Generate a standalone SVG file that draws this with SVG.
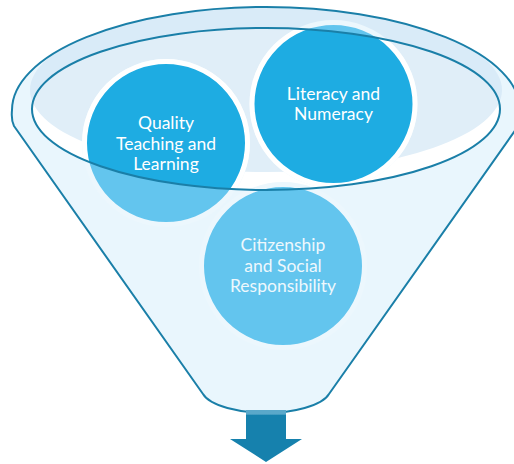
<svg xmlns="http://www.w3.org/2000/svg" width="514" height="464" viewBox="0 0 514 464">
  <style>
    .outline { fill: none; stroke: #1a7fa8; stroke-width: 2; stroke-linejoin: round; }
    .glass { fill: #63c5ee; stroke: #ecf7fd; stroke-width: 5; }
    .open { fill: #1eace2; stroke: #ffffff; stroke-width: 5; }
    .lbl { font-family: Lato, "Open Sans", sans-serif; font-size: 17.5px; fill: #ffffff; text-anchor: middle; }
    .lbl-glass { fill: #eef8fd; }
  </style>
  <defs>
    <!-- the open mouth of the funnel -->
    <clipPath id="mouth">
      <ellipse cx="266" cy="109" rx="234" ry="81"/>
    </clipPath>
    <linearGradient id="arrowShade" x1="0" y1="410" x2="0" y2="462" gradientUnits="userSpaceOnUse">
      <stop offset="0" stop-color="#5aa8ca"/>
      <stop offset="0.08" stop-color="#5aa8ca"/>
      <stop offset="0.1" stop-color="#1681ad"/>
      <stop offset="1" stop-color="#1681ad"/>
    </linearGradient>
  </defs>

  <!-- funnel glass -->
  <g id="funnel">
    <path d="M14,126 Q11,120 12,110 A254 103 0 0 1 520,110 L519,125 L329,394 C322,406 292,413 266,413 C240,413 210,406 203,394 Z" fill="#e9f6fd"/>
    <ellipse cx="266" cy="90" rx="236" ry="82" fill="#d9ebf8"/>
    <ellipse cx="266" cy="109" rx="234" ry="81" fill="#ffffff"/>
    <ellipse cx="266" cy="90" rx="236" ry="82" fill="#e0eef8" clip-path="url(#mouth)"/>
  </g>

  <!-- items in the funnel -->
  <g id="node-quality">
    <circle class="glass" cx="166" cy="143" r="81.5"/>
    <circle class="open" cx="166" cy="143" r="81.5" clip-path="url(#mouth)"/>
    <text class="lbl" x="166" y="129">Quality</text>
    <text class="lbl" x="166" y="149.5">Teaching and</text>
    <text class="lbl" x="166" y="170">Learning</text>
  </g>
  <g id="node-literacy">
    <circle class="glass" cx="333.5" cy="104" r="81.5"/>
    <circle class="open" cx="333.5" cy="104" r="81.5" clip-path="url(#mouth)"/>
    <text class="lbl" x="333.5" y="99.5">Literacy and</text>
    <text class="lbl" x="333.5" y="120">Numeracy</text>
  </g>
  <g id="node-citizenship">
    <circle class="glass" cx="283" cy="266" r="81.5"/>
    <text class="lbl lbl-glass" x="283" y="251">Citizenship</text>
    <text class="lbl lbl-glass" x="283" y="271.5">and Social</text>
    <text class="lbl lbl-glass" x="283" y="292">Responsibility</text>
  </g>

  <!-- funnel outlines over the contents -->
  <g id="funnel-edges">
    <ellipse class="outline" cx="266" cy="109" rx="234" ry="81"/>
    <path class="outline" d="M14,126 Q11,120 12,110 A254 103 0 0 1 520,110 L519,125 L329,394 C322,406 292,413 266,413 C240,413 210,406 203,394 Z"/>
  </g>

  <!-- output arrow -->
  <g id="connectors">
    <path d="M246,410 H286 V439 H302 L266,462 L230,439 H246 Z" fill="url(#arrowShade)"/>
  </g>
</svg>
